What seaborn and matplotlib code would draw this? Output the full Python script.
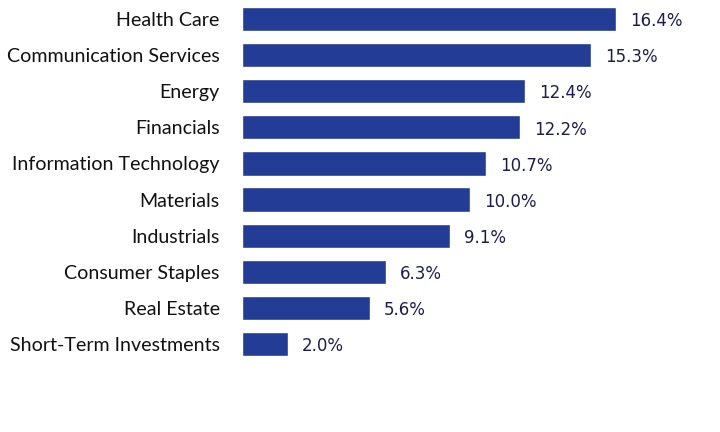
import matplotlib
matplotlib.use("Agg")
import matplotlib.pyplot as plt
import seaborn as sns
import pandas as pd

# Datos
sectores = ["Health Care", "Communication Services", "Energy", "Financials",
            "Information Technology", "Materials", "Industrials",
            "Consumer Staples", "Real Estate", "Short-Term Investments"]
pesos = [16.4, 15.3, 12.4, 12.2, 10.7, 10.0, 9.1, 6.3, 5.6, 2.0]

df = pd.DataFrame({"sector": sectores, "peso": pesos})

sns.set_theme(style="white")
plt.rcParams["font.family"] = ["Lato", "DejaVu Sans"]

fig = plt.figure(figsize=(7.2, 4.32), dpi=100)
ax = fig.add_axes([242 / 720, 1 - 362 / 432, (700 - 242) / 720, 361 / 432])

sns.barplot(data=df, x="peso", y="sector", color="#233c96", saturation=1,
            width=0.67, ax=ax)

escala = (616 - 242) / 16.4
ax.set_xlim(0, (700 - 242) / escala)
ax.set_ylim(9.5, -0.5)

for i, v in enumerate(pesos):
    ax.text(v + 14 / escala, i + 0.06, f"{v:.1f}%", va="center", ha="left",
            fontsize=12, color="#1c1c50", family=["DejaVu Sans"])

ax.set_xlabel("")
ax.set_ylabel("")
ax.set_xticks([])
ax.tick_params(axis="y", length=0, pad=16, labelsize=14.1, labelcolor="#111111")
sns.despine(ax=ax, left=True, bottom=True)

fig.savefig("out.png", dpi=100)
